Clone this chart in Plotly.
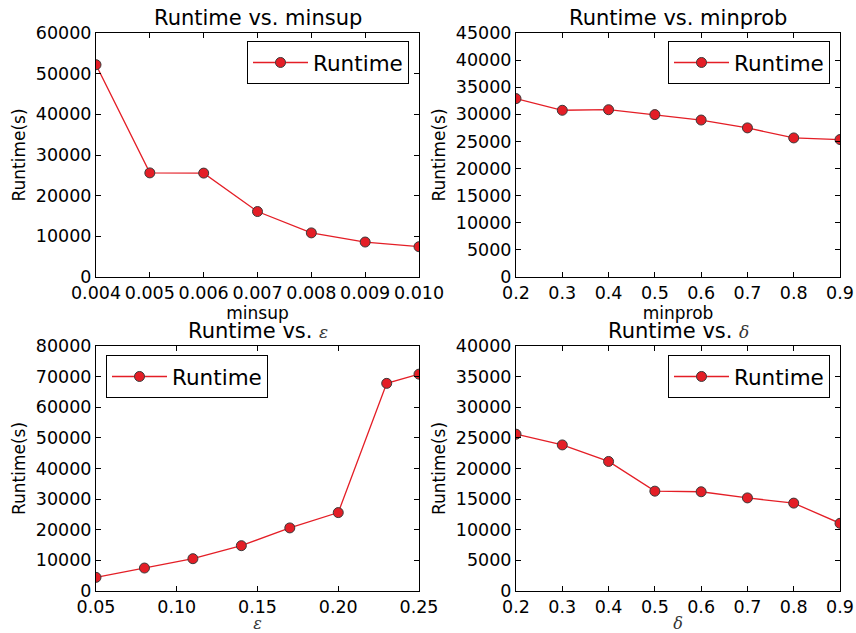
import plotly.graph_objects as go

# ---- data ----
minsup = [0.004, 0.005, 0.006, 0.007, 0.008, 0.009, 0.010]
rt_minsup = [52200, 25600, 25550, 16100, 10850, 8600, 7450]

minprob = [0.2, 0.3, 0.4, 0.5, 0.6, 0.7, 0.8, 0.9]
rt_minprob = [32900, 30750, 30850, 29950, 28950, 27500, 25650, 25350]

eps = [0.05, 0.08, 0.11, 0.14, 0.17, 0.20, 0.23, 0.25]
rt_eps = [4450, 7500, 10550, 14800, 20600, 25600, 67800, 70800]

delta = [0.2, 0.3, 0.4, 0.5, 0.6, 0.7, 0.8, 0.9]
rt_delta = [25600, 23850, 21150, 16300, 16200, 15200, 14350, 11050]

xt_minsup = [0.004, 0.005, 0.006, 0.007, 0.008, 0.009, 0.010]
xt_prob = [0.2, 0.3, 0.4, 0.5, 0.6, 0.7, 0.8, 0.9]
xt_eps = [0.05, 0.10, 0.15, 0.20, 0.25]

W, H = 856, 633
RED = "#e41e26"
EDGE = "#3a3a3a"
FONT = "DejaVu Sans"

fig = go.Figure()

panels = [
    (minsup, rt_minsup, "x", "y", "legend"),
    (minprob, rt_minprob, "x2", "y2", "legend2"),
    (eps, rt_eps, "x3", "y3", "legend3"),
    (delta, rt_delta, "x4", "y4", "legend4"),
]
for xs, ys, xa, ya, lg in panels:
    fig.add_trace(go.Scatter(
        x=xs, y=ys, xaxis=xa, yaxis=ya, legend=lg, name="Runtime",
        mode="lines+markers", showlegend=True,
        line=dict(color=RED, width=1.3),
        marker=dict(size=10, color=RED, line=dict(color=EDGE, width=1)),
    ))

colL = [96 / W, 419 / W]
colR = [516 / W, 840 / W]
rowT = [1 - 277 / H, 1 - 33 / H]
rowB = [1 - 591 / H, 1 - 346 / H]

tickfont = dict(family=FONT, size=17.5, color="black")
titlefont = dict(family=FONT, size=17, color="black")
serif = dict(family="DejaVu Serif", size=16, color="#333")


def xax(domain, anchor, rng, vals, fmt, title, tfont, standoff):
    return dict(domain=domain, anchor=anchor, range=rng, tickvals=vals,
                ticktext=[fmt.format(v) for v in vals], automargin=False,
                ticks="inside", ticklen=5, tickcolor="black", tickwidth=1,
                showline=True, linecolor="black", linewidth=1, mirror="ticks",
                showgrid=False, zeroline=False, tickfont=tickfont,
                title=dict(text=title, font=tfont, standoff=standoff))


def yax(domain, anchor, top, step, title):
    return dict(domain=domain, anchor=anchor, range=[0, top], dtick=step,
                tick0=0, tickformat="d", automargin=False,
                ticks="inside", ticklen=5, tickcolor="black", tickwidth=1,
                showline=True, linecolor="black", linewidth=1, mirror="ticks",
                showgrid=False, zeroline=False, tickfont=tickfont,
                title=dict(text=title, font=titlefont, standoff=5))


fig.update_layout(
    template="none", showlegend=True,
    width=W, height=H, margin=dict(l=0, r=0, t=0, b=0),
    paper_bgcolor="white", plot_bgcolor="white",
    font=dict(family=FONT, color="black"),
    xaxis=xax(colL, "y", [0.004, 0.010], xt_minsup, "{:.3f}", "minsup", titlefont, 4),
    yaxis=yax(rowT, "x", 60000, 10000, "Runtime(s)"),
    xaxis2=xax(colR, "y2", [0.2, 0.9], xt_prob, "{:.1f}", "minprob", titlefont, 4),
    yaxis2=yax(rowT, "x2", 45000, 5000, "Runtime(s)"),
    xaxis3=xax(colL, "y3", [0.05, 0.25], xt_eps, "{:.2f}", "<i>ε</i>", serif, 2),
    yaxis3=yax(rowB, "x3", 80000, 10000, "Runtime(s)"),
    xaxis4=xax(colR, "y4", [0.2, 0.9], xt_prob, "{:.1f}", "<i>δ</i>", serif, 2),
    yaxis4=yax(rowB, "x4", 40000, 5000, "Runtime(s)"),
)

legstyle = dict(font=dict(family=FONT, size=21.5, color="black"),
                bordercolor="black", borderwidth=1, bgcolor="white",
                itemwidth=55, yanchor="top")
fig.update_layout(
    legend=dict(x=409 / W, xanchor="right", y=1 - 41 / H, **legstyle),
    legend2=dict(x=830 / W, xanchor="right", y=1 - 41 / H, **legstyle),
    legend3=dict(x=106 / W, xanchor="left", y=1 - 355 / H, **legstyle),
    legend4=dict(x=830 / W, xanchor="right", y=1 - 355 / H, **legstyle),
)

tfont = dict(family=FONT, size=21, color="black")
titles = [
    ("Runtime vs. minsup", sum(colL) / 2, 1 - 18 / H),
    ("Runtime vs. minprob", sum(colR) / 2, 1 - 18 / H),
    ("Runtime vs. <span style='font-family:DejaVu Serif;font-size:17px;fill:#333'><i>ε</i></span>", sum(colL) / 2, 1 - 331 / H),
    ("Runtime vs. <span style='font-family:DejaVu Serif;font-size:17px;fill:#333'><i>δ</i></span>", sum(colR) / 2, 1 - 331 / H),
]
for text, x, y in titles:
    fig.add_annotation(text=text, x=x, y=y, xref="paper", yref="paper",
                       showarrow=False, font=tfont, xanchor="center", yanchor="middle")

fig.write_html(
    "out.html",
    config={"displayModeBar": False},
    post_script="document.body.style.margin='0';document.body.style.overflow='hidden';",
)
